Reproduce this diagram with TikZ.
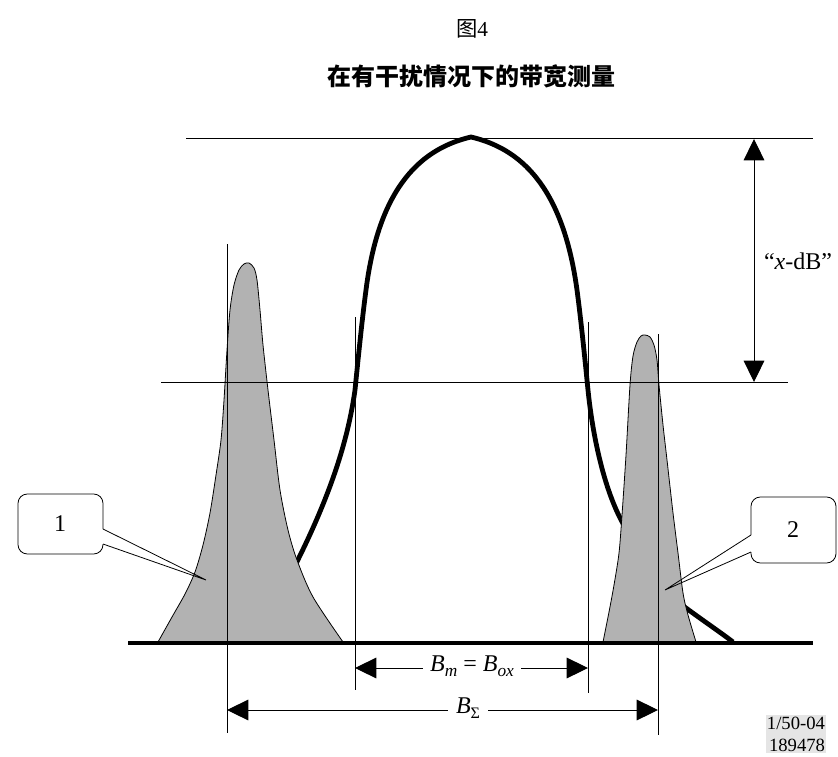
\documentclass[tikz,border=0pt]{standalone}
\usepackage{fontspec}
\setmainfont{Liberation Serif}
\newfontfamily\cjk{Noto Sans CJK SC}
\usetikzlibrary{arrows.meta}
\begin{document}
\begin{tikzpicture}[x=0.75pt,y=-0.75pt,
  thinl/.style={line width=0.75pt},
  mainc/.style={line width=3.6pt,line join=miter,line cap=butt},
  peak/.style={fill=black!30,draw=black,line width=0.6pt},
  dim/.style={thinl,{Triangle[length=16pt,width=15.5pt]}-{Triangle[length=16pt,width=15.5pt]}},
  lab/.style={font=\fontsize{18}{21}\selectfont},
  callout/.style={line width=0.6pt,rounded corners=7pt}]
\useasboundingbox (0,0) rectangle (838,756);

% titles
\node[inner sep=0pt] (fig) at (472,29) {\fontsize{16}{18}\selectfont{\cjk 图}4};
\node[inner sep=0pt] (title) at (471,76) {\fontsize{18}{21}\selectfont\cjk\bfseries 在有干扰情况下的带宽测量};

% main emission curve
\draw[mainc] (285,585) .. controls (330,500) and (348,440) .. (355,390)
  .. controls (358,360) and (362,320) .. (366,290)
  .. controls (378,195) and (415,150) .. (471,137)
  .. controls (527,150) and (564,195) .. (577,290)
  .. controls (581,320) and (585,360) .. (588,390)
  .. controls (592,430) and (603,490) .. (625,527)
  .. controls (645,565) and (660,590) .. (686,608)
  .. controls (705,622) and (720,632) .. (733,642);

% interfering emissions
\draw[peak] plot[smooth,tension=0.5] coordinates {(158,642) (172,617) (185,594) (195,572) (203,545) (210,513) (216,475) (221,440) (224,400) (227,350) (230,310) (234,285) (239,270) (244,264) (249,263) (254,268) (257,280) (260,310) (263,345) (268,390) (274,440) (280,490) (288,530) (297,560) (313,597) (343,642)} -- cycle;
\draw[peak] plot[smooth,tension=0.5] coordinates {(603,642) (609,612) (614,585) (619,553) (622,515) (626,455) (630,385) (633,356) (637,342) (641,336) (645,335) (650,337) (654,345) (657,360) (659,385) (663,425) (667,460) (673,513) (678,553) (683,593) (688,615) (696,642)} -- cycle;

% reference lines
\coordinate (top1) at (186,139); \coordinate (top2) at (813,139);
\coordinate (thr1) at (161,382); \coordinate (thr2) at (788,382);
\coordinate (base1) at (128,643); \coordinate (base2) at (813,643);
\draw[thinl] (top1) -- (top2);
\draw[thinl] (thr1) -- (thr2);

% vertical markers
\coordinate (v1a) at (227,244); \coordinate (v1b) at (227,733);
\coordinate (v2a) at (355,317); \coordinate (v2b) at (355,690);
\coordinate (v3a) at (588,322); \coordinate (v3b) at (588,693);
\coordinate (v4a) at (658,334); \coordinate (v4b) at (658,735);
\draw[thinl] (v1a) -- (v1b);
\draw[thinl] (v2a) -- (v2b);
\draw[thinl] (v3a) -- (v3b);
\draw[thinl] (v4a) -- (v4b);

\draw[line width=2.6pt] (base1) -- (base2);

% x-dB arrow
\coordinate (xa) at (754,139); \coordinate (xb) at (754,382);
\draw[dim] (xa) -- (xb);
\node[lab,inner sep=0pt] (xdb) at (798,261) {“\textit{x}-dB”};

% bandwidth arrows
\coordinate (bm1) at (355,668); \coordinate (bm2) at (588,668);
\draw[dim] (bm1) -- (bm2);
\node[lab,fill=white,inner sep=5pt] (bmlab) at (472,666) {\textit{B}\raisebox{-0.5ex}{\fontsize{13}{15}\selectfont\textit{m}} = \textit{B}\raisebox{-0.5ex}{\fontsize{13}{15}\selectfont\textit{ox}}};
\coordinate (bs1) at (227,710); \coordinate (bs2) at (658,710);
\draw[dim] (bs1) -- (bs2);
\node[lab,fill=white,inner sep=6pt] (bslab) at (468,708) {\textit{B}\raisebox{-0.5ex}{\fontsize{12}{14}\selectfont Σ}};

% callout 1
\coordinate (c1a) at (103,529); \coordinate (c1b) at (103,544); \coordinate (tip1) at (206,580);
\draw[callout] (c1a) -- (103,494) -- (18,494) -- (18,554) -- (103,554) -- (c1b);
\draw[line width=0.6pt] (c1a) -- (tip1) -- (c1b);
\node[lab] (n1) at (60,524) {1};

% callout 2
\coordinate (c2a) at (751,535); \coordinate (c2b) at (751,552); \coordinate (tip2) at (665,590);
\draw[callout] (c2a) -- (751,497) -- (836,497) -- (836,563) -- (751,563) -- (c2b);
\draw[line width=0.6pt] (c2a) -- (tip2) -- (c2b);
\node[lab] (n2) at (793,530) {2};

% figure code
\node[fill=black!10,inner sep=1pt,align=right,font=\fontsize{14}{16.5}\selectfont] (code) at (796,734) {1/50-04\\189478};
\end{tikzpicture}
\end{document}
